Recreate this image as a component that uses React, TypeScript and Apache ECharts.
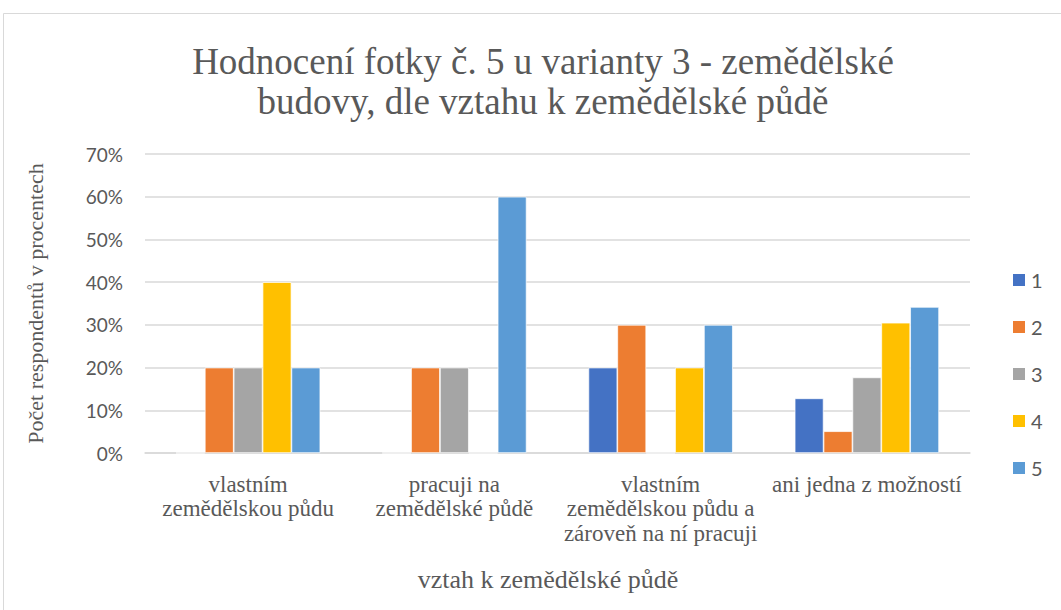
import React, { useEffect, useRef } from "react";
import * as echarts from "echarts";

const categories = [
  "vlastním\nzemědělskou půdu",
  "pracuji na\nzemědělské půdě",
  "vlastním\nzemědělskou půdu a\nzároveň na ní pracuji",
  "ani jedna z možností",
];
const seriesNames = ["1", "2", "3", "4", "5"];
const s1 = [0, 0, 20, 12.8];
const s2 = [20, 20, 30, 5.1];
const s3 = [20, 20, 0, 17.7];
const s4 = [40, 0, 20, 30.5];
const s5 = [20, 60, 30, 34.2];
const colors = ["#4472C4", "#ED7D31", "#A5A5A5", "#FFC000", "#5B9BD5"];
const yTicks = [0, 10, 20, 30, 40, 50, 60, 70];

export default function App() {
  const ref = useRef<HTMLDivElement>(null);
  useEffect(() => {
    const chart = echarts.init(ref.current!, undefined, { renderer: "svg" });
    const data = [s1, s2, s3, s4, s5];
    const serif = "Liberation Serif, Times New Roman, serif";
    const sans = "Lato, Liberation Sans, sans-serif";
    chart.setOption({
      animation: false,
      backgroundColor: "#ffffff",
      title: {
        text: "Hodnocení fotky č. 5 u varianty 3 - zemědělské\nbudovy, dle vztahu k zemědělské půdě",
        left: 538,
        textAlign: "center",
        top: 36,
        textStyle: {
          fontFamily: serif,
          fontSize: 37,
          fontWeight: "normal",
          color: "#595959",
          lineHeight: 40,
        },
      },
      graphic: [
        {
          type: "polyline",
          shape: { points: [[3.5, 610], [3.5, 13.5], [1061, 13.5]] },
          style: { stroke: "#d9d9d9", lineWidth: 1, fill: "none" },
        },
        {
          type: "text",
          x: 548,
          y: 579,
          style: {
            text: "vztah k zemědělské půdě",
            fontFamily: serif,
            fontSize: 26,
            fill: "#595959",
            align: "center",
            verticalAlign: "middle",
          },
        },
      ],
      legend: {
        orient: "vertical",
        left: 1006,
        top: 265,
        itemWidth: 14,
        itemHeight: 14,
        itemGap: 27,
        icon: "rect",
        data: seriesNames,
        textStyle: {
          fontFamily: sans,
          fontSize: 20,
          lineHeight: 16,
          color: "#595959",
        },
      },
      grid: { left: 145, right: 91, top: 154, bottom: 157 },
      xAxis: {
        type: "category",
        data: categories,
        axisTick: { show: false },
        axisLine: { lineStyle: { color: "#d9d9d9", width: 1.5 } },
        axisLabel: {
          fontFamily: serif,
          fontSize: 23,
          color: "#595959",
          lineHeight: 24.5,
          margin: 19,
          interval: 0,
        },
      },
      yAxis: {
        type: "value",
        min: 0,
        max: 70,
        interval: 10,
        name: "Počet respondentů v procentech",
        nameLocation: "middle",
        nameGap: 99,
        nameTextStyle: { fontFamily: serif, fontSize: 22, color: "#595959" },
        axisLabel: {
          fontFamily: sans,
          fontSize: 19,
          color: "#595959",
          margin: 22,
          formatter: (v: number) => (yTicks.includes(v) ? v + "%" : ""),
        },
        splitLine: { lineStyle: { color: "#d9d9d9", width: 1.5 } },
      },
      series: seriesNames.map((n, i) => ({
        name: n,
        type: "bar",
        data: data[i],
        barGap: "0%",
        barCategoryGap: "30%",
        itemStyle: { color: colors[i], borderColor: "#ffffff", borderWidth: 0.7 },
      })),
    });
    return () => chart.dispose();
  }, []);
  return (
    <div
      ref={ref}
      style={{ position: "fixed", left: 0, top: 0, width: 1061, height: 610 }}
    />
  );
}
